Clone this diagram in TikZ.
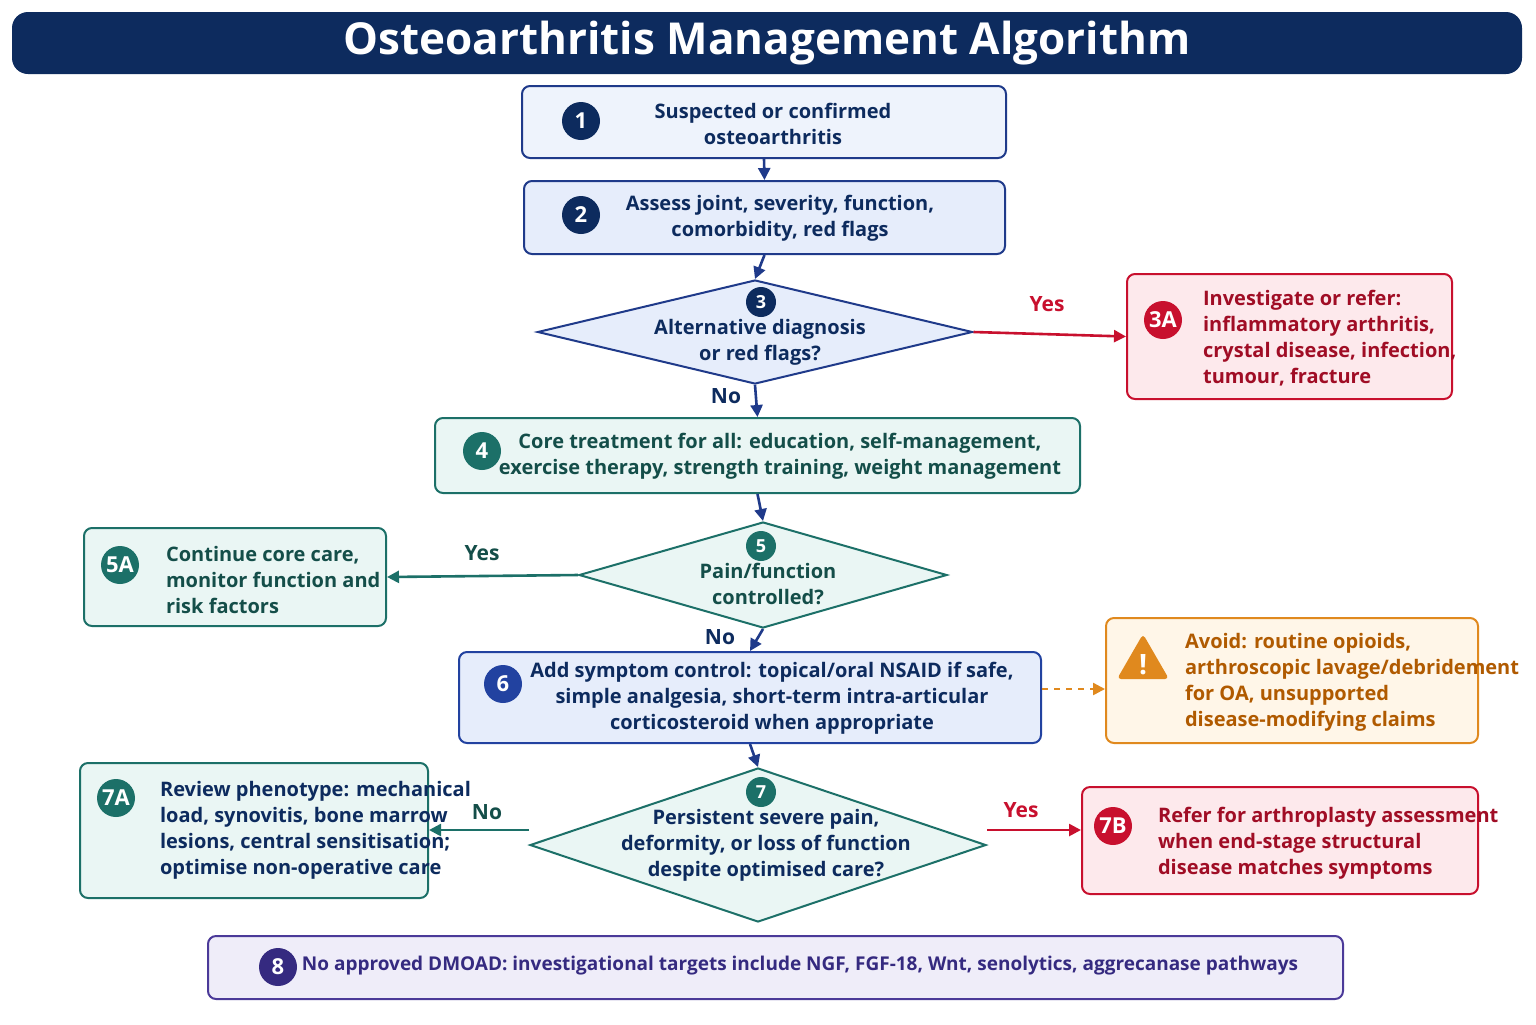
\documentclass[tikz,border=0pt]{standalone}
\usepackage{fontspec}
\setmainfont{Open Sans}
\usetikzlibrary{shapes.geometric,arrows.meta}
\definecolor{navy}{HTML}{0D2B5E}
\definecolor{nb}{HTML}{1F3A8A}
\definecolor{nbf}{HTML}{EEF3FC}
\definecolor{rd}{HTML}{C8102E}
\definecolor{rdf}{HTML}{FDE9EC}
\definecolor{tl}{HTML}{1C7068}
\definecolor{tlf}{HTML}{EAF6F4}
\definecolor{bl}{HTML}{2242A0}
\definecolor{blf}{HTML}{E6EDFB}
\definecolor{orb}{HTML}{E0891E}
\definecolor{ort}{HTML}{B05A00}
\definecolor{orf}{HTML}{FFF6E8}
\definecolor{pu}{HTML}{4B3A99}
\definecolor{puf}{HTML}{EFEDF9}
\definecolor{pud}{HTML}{352A80}
\tikzset{
 box/.style={draw=#1,line width=1pt,rounded corners=4pt},
 num/.style={circle,fill=#1,text=white,font=\fontsize{11}{12}\selectfont\bfseries,minimum size=19pt,inner sep=0pt},
 txt/.style={font=\fontsize{10}{13}\selectfont\bfseries,align=center},
 ltxt/.style={font=\fontsize{10}{13}\selectfont\bfseries,align=left,anchor=west},
 lab/.style={font=\fontsize{10.5}{12}\selectfont\bfseries},
 arr/.style={draw=#1,line width=1.3pt,-{Triangle[length=6pt,width=6pt]}},
 dia/.style={diamond,draw=#1,line width=1pt,inner sep=0pt},
}
\begin{document}
\begin{tikzpicture}[x=0.5pt,y=-0.5pt]
\useasboundingbox (0,0) rectangle (1536,1024);
\fill[white] (0,0) rectangle (1536,1024);
% title
\node[fill=navy,rounded corners=8pt,minimum width=755pt,minimum height=31pt,text=white,font=\fontsize{22}{24}\selectfont\bfseries] (title) at (767,43) {Osteoarthritis Management Algorithm};
% 1
\node[box=nb,fill=nbf,minimum width=242pt,minimum height=36pt] (b1) at (764,122) {};
\node[num=navy] (n1) at (581,121) {1};
\node[txt,text=navy] (t1) at (773,124) {Suspected or confirmed\\osteoarthritis};
% 2
\node[box=nb,fill=blf,minimum width=240.5pt,minimum height=36.5pt] (b2) at (764.5,217.5) {};
\node[num=navy] (n2) at (581,215) {2};
\node[txt,text=navy] (t2) at (780,218) {Assess joint, severity, function,\\comorbidity, red flags};
% 3
\node[dia=nb,fill=blf,minimum width=217.5pt,minimum height=52pt] (d3) at (755,332) {};
\node[num=navy,minimum size=15pt,font=\fontsize{9}{10}\selectfont\bfseries] (n3) at (761,302) {3};
\node[txt,text=navy] (t3) at (760,342) {Alternative diagnosis\\or red flags?};
% 3A
\node[box=rd,fill=rdf,minimum width=162.5pt,minimum height=62.5pt] (b3a) at (1289.5,336.5) {};
\node[num=rd] (n3a) at (1163,320) {3A};
\node[ltxt,text=rd!80!black] (t3a) at (1196,338) {Investigate or refer:\\inflammatory arthritis,\\crystal disease, infection,\\tumour, fracture};
\draw[arr=rd] (d3.east) -- (b3a.west);
\node[lab,text=rd] at (1047,304) {Yes};
% 4
\node[box=tl,fill=tlf,minimum width=322.5pt,minimum height=37.5pt] (b4) at (757.5,455.5) {};
\node[num=tl] (n4) at (482,451) {4};
\node[txt,text=tl!70!black] (t4) at (780,456) {Core treatment for all: education, self-management,\\exercise therapy, strength training, weight management};
\draw[arr=nb] (b1.south) -- (b2.north);
\draw[arr=nb] (b2.south) -- (d3.north);
\draw[arr=nb] (d3.south) -- (b4.north);
\node[lab,text=navy] at (726,396) {No};
% 5
\node[dia=tl,fill=tlf,minimum width=184pt,minimum height=53pt] (d5) at (763,575) {};
\node[num=tl,minimum size=15pt,font=\fontsize{9}{10}\selectfont\bfseries] (n5) at (761,546) {5};
\node[txt,text=tl!70!black] (t5) at (768,584) {Pain/function\\controlled?};
\draw[arr=nb] (b4.south) -- (d5.north);
% 5A
\node[box=tl,fill=tlf,minimum width=151pt,minimum height=49pt] (b5a) at (235,577) {};
\node[num=tl] (n5a) at (120,565) {5A};
\node[ltxt,text=tl!70!black] (t5a) at (159,580) {Continue core care,\\monitor function and\\risk factors};
\draw[arr=tl] (d5.west) -- (b5a.east);
\node[lab,text=tl!70!black] at (482,553) {Yes};
% 6
\node[box=bl,fill=blf,minimum width=291pt,minimum height=45.5pt] (b6) at (750,697.5) {};
\node[num=bl] (n6) at (503,684) {6};
\node[txt,text=navy] (t6) at (772,698) {Add symptom control: topical/oral NSAID if safe,\\simple analgesia, short-term intra-articular\\corticosteroid when appropriate};
\draw[arr=nb] (d5.south) -- (b6.north);
\node[lab,text=navy] at (720,637) {No};
% warning
\node[box=orb,fill=orf,minimum width=186pt,minimum height=62.5pt] (bw) at (1292,680.5) {};
\node[regular polygon,regular polygon sides=3,fill=orb,rounded corners=2pt,minimum size=30pt,inner sep=0pt,text=white,font=\bfseries\fontsize{14}{14}\selectfont] (iw) at (1143,664) {};
\node[text=white,font=\bfseries\fontsize{14}{14}\selectfont] at (1143,665) {!};
\node[ltxt,text=ort] (tw) at (1178,682) {Avoid: routine opioids,\\arthroscopic lavage/debridement\\for OA, unsupported\\disease-modifying claims};
\draw[arr=orb,dashed,line width=1.2pt] (b6.east|-0,689) -- (bw.west|-0,689);
% 7
\node[dia=tl,fill=tlf,minimum width=228pt,minimum height=77pt] (d7) at (758,845) {};
\node[num=tl,minimum size=15pt,font=\fontsize{9}{10}\selectfont\bfseries] (n7) at (761,792) {7};
\node[txt,text=navy] (t7) at (766,845) {Persistent severe pain,\\deformity, or loss of function\\despite optimised care?};
\draw[arr=nb] (b6.south) -- (d7.north);
% 7A
\node[box=tl,fill=tlf,minimum width=174pt,minimum height=67.5pt] (b7a) at (254,830.5) {};
\node[num=tl] (n7a) at (116,798) {7A};
\node[ltxt,text=navy] (t7a) at (153,830) {Review phenotype: mechanical\\load, synovitis, bone marrow\\lesions, central sensitisation;\\optimise non-operative care};
\draw[arr=tl] (d7.west|-0,830) -- (b7a.east|-0,830);
\node[lab,text=tl!70!black] at (487,812) {No};
% 7B
\node[box=rd,fill=rdf,minimum width=198pt,minimum height=53.5pt] (b7b) at (1280,840.5) {};
\node[num=rd] (n7b) at (1113,826) {7B};
\node[ltxt,text=rd!80!black] (t7b) at (1151,843) {Refer for arthroplasty assessment\\when end-stage structural\\disease matches symptoms};
\draw[arr=rd] (d7.east|-0,830) -- (b7b.west|-0,830);
\node[lab,text=rd] at (1021,810) {Yes};
% 8
\node[box=pu,fill=puf,minimum width=567.5pt,minimum height=31.5pt] (b8) at (775.5,967.5) {};
\node[num=pud] (n8) at (278,967) {8};
\node[txt,text=pud,font=\fontsize{9.5}{12}\selectfont\bfseries] (t8) at (800,966) {No approved DMOAD: investigational targets include NGF, FGF-18, Wnt, senolytics, aggrecanase pathways};
\end{tikzpicture}
\end{document}
